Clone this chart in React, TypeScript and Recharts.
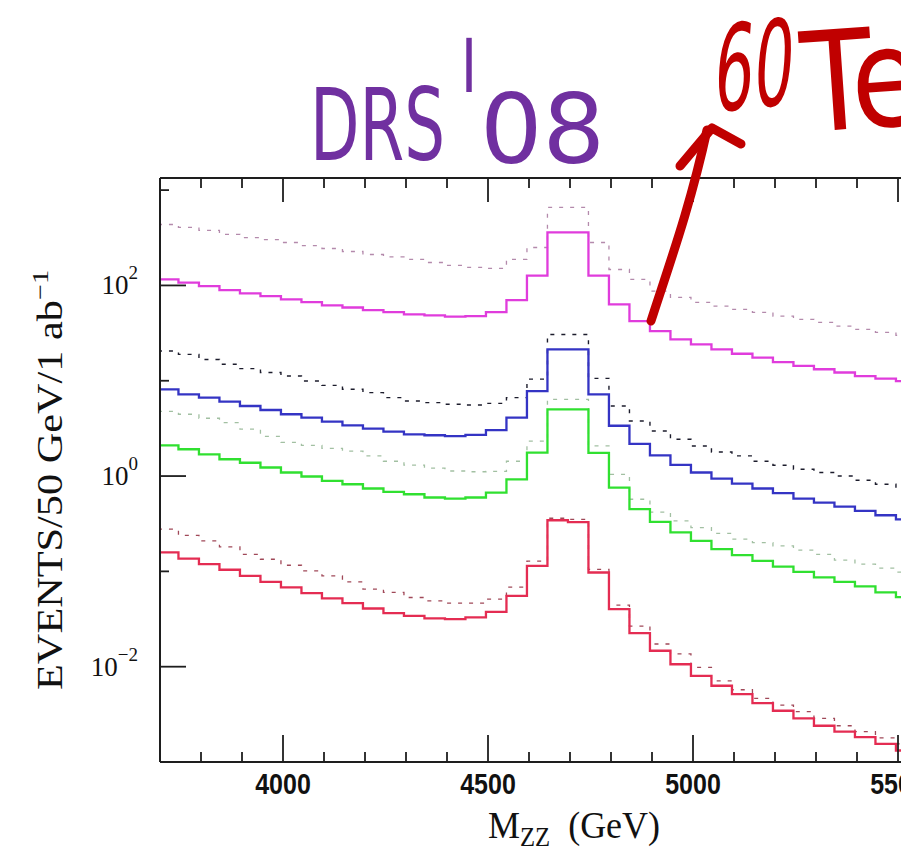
import { LineChart, Line, XAxis, YAxis } from 'recharts'

// histogram bin edges (GeV), 50 GeV bins
const binEdges = [
  3695, 3745, 3795, 3845, 3895, 3945, 3995, 4045, 4095, 4145, 4195, 4245, 4295,
  4345, 4395, 4445, 4495, 4545, 4595, 4645, 4695, 4745, 4795, 4845, 4895, 4945,
  4995, 5045, 5095, 5145, 5195, 5245, 5295, 5345, 5395, 5445, 5495, 5545,
]

// events per bin, one value per bin (37 bins)
const magentaSolid = [
  116, 107, 98.4, 89.3, 82.4, 77.3, 71.3, 66.8, 61.7, 58.7, 55.1, 52.5, 49.7, 48.5,
  47.0, 47.6, 52.5, 70.1, 127, 360, 360, 127, 63.2, 42.3, 33.2, 27.2, 24.1, 21.3,
  19.2, 17.5, 15.7, 14.3, 13.2, 12.2, 11.2, 10.5, 9.9,
]
const magentaDotted = [
  436, 406, 378, 343, 318, 303, 282, 262, 244, 227, 211, 199, 188, 174, 162, 155,
  151, 188, 250, 658, 658, 282, 147, 116, 87.1, 74.8, 66.4, 60.7, 56.0, 52.1, 47.6,
  44.1, 40.9, 37.4, 34.6, 32.1, 29.9,
]
const blueSolid = [
  8.13, 7.19, 6.65, 6.04, 5.43, 4.93, 4.45, 4.10, 3.72, 3.40, 3.15, 2.92, 2.74, 2.68,
  2.63, 2.70, 3.04, 4.10, 7.80, 21.3, 21.3, 7.19, 3.37, 2.18, 1.65, 1.31, 1.09, 0.942,
  0.834, 0.740, 0.661, 0.581, 0.527, 0.479, 0.431, 0.388, 0.352,
]
const blueDotted = [
  20.5, 18.9, 16.7, 14.9, 13.4, 12.2, 11.2, 9.93, 8.95, 8.13, 7.50, 6.65, 6.12, 5.89,
  5.66, 5.56, 5.79, 6.65, 10.4, 30.6, 30.6, 10.6, 5.43, 3.78, 2.97, 2.43, 2.07, 1.79,
  1.63, 1.43, 1.30, 1.18, 1.09, 1.00, 0.904, 0.820, 0.745,
]
const greenSolid = [
  2.10, 1.91, 1.69, 1.50, 1.38, 1.23, 1.09, 0.989, 0.889, 0.820, 0.740, 0.681, 0.644,
  0.596, 0.581, 0.596, 0.671, 0.925, 1.76, 5.01, 5.01, 1.75, 0.757, 0.449, 0.330,
  0.256, 0.209, 0.171, 0.148, 0.129, 0.112, 0.0989, 0.0863, 0.0776, 0.0695, 0.0601,
  0.0537,
]
const greenDotted = [
  4.78, 4.45, 4.04, 3.64, 3.10, 2.61, 2.26, 2.10, 1.95, 1.83, 1.63, 1.43, 1.30, 1.21,
  1.13, 1.11, 1.12, 1.43, 2.33, 6.38, 6.38, 2.07, 1.04, 0.571, 0.418, 0.338, 0.288,
  0.251, 0.218, 0.200, 0.185, 0.167, 0.151, 0.131, 0.119, 0.108, 0.0982,
]
const redSolid = [
  0.158, 0.136, 0.119, 0.104, 0.0897, 0.0776, 0.0678, 0.0592, 0.0520, 0.0465, 0.0408,
  0.0365, 0.0342, 0.0321, 0.0315, 0.0329, 0.0376, 0.0553, 0.114, 0.344, 0.328, 0.0973,
  0.0402, 0.0225, 0.0147, 0.0106, 0.00802, 0.00631, 0.00516, 0.00415, 0.00345,
  0.00287, 0.00240, 0.00208, 0.00182, 0.00155, 0.00132,
]
const redDotted = [
  0.277, 0.239, 0.209, 0.181, 0.151, 0.134, 0.116, 0.101, 0.0897, 0.0776, 0.0650,
  0.0601, 0.0532, 0.0491, 0.0465, 0.0465, 0.0512, 0.0682, 0.128, 0.361, 0.352, 0.105,
  0.0443, 0.0267, 0.0173, 0.0136, 0.00984, 0.00711, 0.00573, 0.00466, 0.00395,
  0.00337, 0.00287, 0.00240, 0.00208, 0.00179, 0.00155,
]

const xTicks = [
  3800, 3900, 4000, 4100, 4200, 4300, 4400, 4500, 4600, 4700, 4800, 4900, 5000,
  5100, 5200, 5300, 5400, 5500, 5600,
]
const yTicks = [0.01, 0.1, 1, 10, 100, 1000]
const X_DOMAIN = [3700, 5700]

const series = [
  { key: 'magDot', values: magentaDotted, color: '#b48aac', width: 1.3, dash: '4 7' },
  { key: 'blueDot', values: blueDotted, color: '#1c1c2c', width: 1.4, dash: '4 7' },
  { key: 'greenDot', values: greenDotted, color: '#a2c0a2', width: 1.3, dash: '4 7' },
  { key: 'redDot', values: redDotted, color: '#a04858', width: 1.3, dash: '4 7' },
  { key: 'mag', values: magentaSolid, color: '#e03cdc', width: 2.3 },
  { key: 'blue', values: blueSolid, color: '#3434c4', width: 2.3 },
  { key: 'green', values: greenSolid, color: '#30e030', width: 2.3 },
  { key: 'red', values: redSolid, color: '#e42c52', width: 2.3 },
]

const data = binEdges.map((e, i) => {
  const row: Record<string, number> = { e }
  series.forEach((s) => {
    row[s.key] = s.values[Math.min(i, s.values.length - 1)]
  })
  return row
})

// chart box: plot area = margin + axis sizes
const W = 1060
const H = 843
const MARGIN = { top: 150, right: 88, bottom: 29, left: 92 }
const Y_AXIS_W = 60
const TOP_AXIS_H = 20
const BOTTOM_AXIS_H = 60
const PLOT_LEFT = MARGIN.left + Y_AXIS_W
const PLOT_RIGHT = W - MARGIN.right
const PLOT_TOP = MARGIN.top + TOP_AXIS_H
const PLOT_BOTTOM = H - MARGIN.bottom - BOTTOM_AXIS_H
const xToPx = (v: number) =>
  PLOT_LEFT + ((v - X_DOMAIN[0]) / (X_DOMAIN[1] - X_DOMAIN[0])) * (PLOT_RIGHT - PLOT_LEFT)

const INK = '#1e1e1e'
const serif = "'Liberation Serif', 'Times New Roman', serif"
const hand = "'Liberation Sans Narrow', 'DejaVu Sans Condensed', 'Liberation Sans', sans-serif"

function BottomLabel(props: any) {
  const { x, y, payload } = props
  const major = payload.value % 500 === 0
  return (
    <text
      transform={`translate(${x} ${y + 32}) scale(1 1.2)`}
      textAnchor="middle"
      fontFamily="'Liberation Sans', Arial, sans-serif"
      fontWeight="bold"
      fontSize={25}
      fill="#111"
    >
      {major ? payload.value : ''}
    </text>
  )
}

function LeftTick(props: any) {
  const { x, y, payload } = props
  const p = Math.round(Math.log10(payload.value))
  const major = p % 2 === 0
  return (
    <g>
      <line x1={x} x2={x + (major ? 26 : 9)} y1={y} y2={y} stroke={INK} strokeWidth={1.8} />
      {major && (
        <text x={x - 22} y={y + 9} textAnchor="end" fontFamily={serif} fontSize={27} fill="#111">
          10
          <tspan dy={-15} fontSize={19}>
            {p < 0 ? `\u2212${-p}` : p}
          </tspan>
        </text>
      )}
    </g>
  )
}

export default function App() {
  return (
    <div style={{ position: 'relative', width: 901, height: 843, overflow: 'hidden', background: '#fff' }}>
      <LineChart width={W} height={H} data={data} margin={MARGIN}>
        <XAxis
          dataKey="e"
          type="number"
          domain={X_DOMAIN}
          allowDataOverflow
          ticks={xTicks}
          interval={0}
          tickSize={0}
          tickMargin={0}
          height={BOTTOM_AXIS_H}
          axisLine={{ stroke: INK, strokeWidth: 2 }}
          tickLine={false}
          tick={<BottomLabel />}
        />
        <XAxis
          xAxisId="top"
          orientation="top"
          dataKey="e"
          type="number"
          domain={X_DOMAIN}
          allowDataOverflow
          ticks={xTicks}
          height={TOP_AXIS_H}
          axisLine={{ stroke: INK, strokeWidth: 2 }}
          tickLine={false}
          tick={false}
        />
        <YAxis
          type="number"
          scale="log"
          domain={[0.001, 1340]}
          allowDataOverflow
          ticks={yTicks}
          interval={0}
          tickSize={0}
          tickMargin={0}
          width={Y_AXIS_W}
          axisLine={{ stroke: INK, strokeWidth: 2 }}
          tickLine={false}
          tick={<LeftTick />}
        />
        {series.map((s) => (
          <Line
            key={s.key}
            dataKey={s.key}
            type="stepAfter"
            stroke={s.color}
            strokeWidth={s.width}
            strokeDasharray={s.dash}
            dot={false}
            activeDot={false}
            isAnimationActive={false}
          />
        ))}
      </LineChart>
      <svg
        width={901}
        height={843}
        style={{ position: 'absolute', left: 0, top: 0, pointerEvents: 'none' }}
      >
        {/* inward tick marks on the top and bottom frame */}
        <g stroke={INK} strokeWidth={1.8}>
          {xTicks.map((v) => {
            const px = xToPx(v)
            const major = v % 500 === 0
            return (
              <g key={v}>
                <line x1={px} x2={px} y1={PLOT_BOTTOM} y2={PLOT_BOTTOM - (major ? 27 : 10)} />
                <line x1={px} x2={px} y1={PLOT_TOP} y2={PLOT_TOP + (major ? 24 : 10)} />
              </g>
            )
          })}
        </g>
        <text
          transform="translate(54 472) rotate(-90)"
          textAnchor="middle"
          fontFamily={serif}
          fontSize={36}
          fill="#111"
          textLength={420}
          lengthAdjust="spacingAndGlyphs"
        >
          EVENTS/50 GeV/1 ab
          <tspan dy={-14} fontSize={24}>
            {'\u22121'}
          </tspan>
        </text>
        <text
          transform="translate(566 830) scale(1 1.2)"
          textAnchor="middle"
          fontFamily={serif}
          fontSize={32}
          fill="#111"
          textLength={172}
          lengthAdjust="spacingAndGlyphs"
        >
          M
          <tspan dy={7} fontSize={22}>
            ZZ
          </tspan>
          <tspan dy={-7}>{'\u2002(GeV)'}</tspan>
        </text>
        <text fill="#7030a0" fontFamily={hand} fontSize={100}>
          <tspan x={302} y={152} textLength={135} lengthAdjust="spacingAndGlyphs">
            DRS
          </tspan>
          <tspan x={452} y={176} fontSize={200} textLength={18} lengthAdjust="spacingAndGlyphs">
            '
          </tspan>
          <tspan x={472} y={155} fontSize={96} textLength={125} lengthAdjust="spacingAndGlyphs">
            08
          </tspan>
        </text>
        <g fill="#c00000" fontFamily={hand}>
          <text
            transform="translate(704 104) rotate(-6) skewX(-10)"
            fontSize={118}
            textLength={80}
            lengthAdjust="spacingAndGlyphs"
          >
            60
          </text>
          <text
            transform="translate(797 124) rotate(-4)"
            fontSize={138}
            textLength={200}
            lengthAdjust="spacingAndGlyphs"
          >
            TeV
          </text>
        </g>
        <g stroke="#c00000" strokeWidth={9} fill="none" strokeLinecap="round" strokeLinejoin="round">
          <path d="M 643 313 C 660 260, 682 200, 699 122" />
          <path d="M 672 158 L 704 120 L 733 136" />
        </g>
      </svg>
    </div>
  )
}
